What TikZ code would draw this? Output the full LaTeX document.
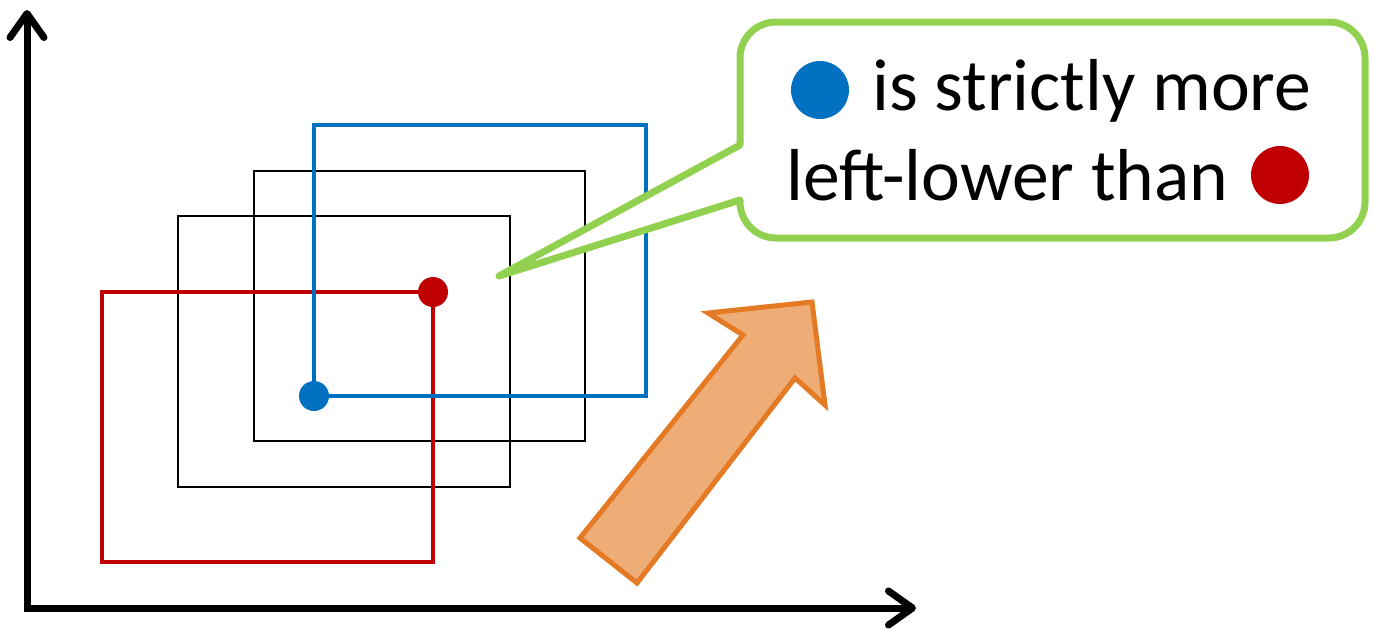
\documentclass[tikz,border=0pt]{standalone}
\usepackage{fontspec}
\setmainfont{Carlito}
\usetikzlibrary{arrows.meta,positioning}
\definecolor{ptblue}{HTML}{0070C0}
\definecolor{ptred}{HTML}{C00000}
\definecolor{callgreen}{HTML}{92D050}
\definecolor{arrline}{HTML}{E57A24}
\definecolor{arrfill}{HTML}{EEAD76}
\tikzset{
  axis/.style={line width=3.5pt,{Straight Barb[length=12pt,width=17pt,round]}-{Straight Barb[length=12pt,width=17pt,round]}},
  box/.style={line width=0.75pt},
  ptbox/.style={line width=1.75pt},
  dot/.style={circle,inner sep=0pt,minimum size=15pt},
  bigdot/.style={circle,inner sep=0pt,minimum size=29pt},
  calltext/.style={font=\fontsize{36.8}{45}\selectfont,inner sep=0pt,anchor=base west},
  callout/.style={draw=callgreen,fill=white,line width=3.5pt,line join=round},
  bigarrow/.style={draw=arrline,fill=arrfill,line width=2.5pt}
}
\begin{document}
\begin{tikzpicture}[x=0.5pt,y=-0.5pt]
\useasboundingbox (0,0) rectangle (1373,628);
% axes
\coordinate (O) at (27,608);
\coordinate (ytip) at (27,10);
\coordinate (xtip) at (916,608);
\draw[axis] (ytip) -- (O) -- (xtip);
% corner points
\coordinate (rpt) at (433,292);
\coordinate (bpt) at (314,396);
% boxes
\draw[box] (178,216) rectangle (510,487);
\draw[box] (254,171) rectangle (585,441);
\draw[ptbox,ptred] (102,562) rectangle (rpt);
\draw[ptbox,ptblue] (bpt) rectangle (646,125);
\node[dot,fill=ptred] (rdot) at (rpt) {};
\node[dot,fill=ptblue] (bdot) at (bpt) {};
% callout
\coordinate (tip) at (499,276);
\draw[callout] (740,145) [rounded corners=18pt] -- (740,22) -- (1365,22) -- (1365,238) -- (740,238) [sharp corners] -- (740,200) -- (tip) -- cycle;
\node[calltext] (line1) at (872,110) {is strictly more};
\node[bigdot,fill=ptblue] (bmark) at (820,90) {};
\node[calltext] (line2) at (786,200) {left-lower than};
\node[bigdot,fill=ptred] (rmark) at (1280,175) {};
% direction arrow
\draw[bigarrow] (580,538) -- (743,335) -- (708,313) -- (812,302) -- (825,405) -- (795,378) -- (637,583) -- cycle;
\end{tikzpicture}
\end{document}
